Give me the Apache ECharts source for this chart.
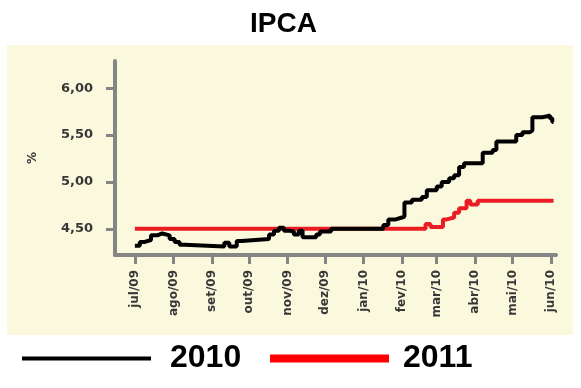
<!DOCTYPE html>
<html>
<head>
<meta charset="utf-8">
<script src="https://cdn.jsdelivr.net/npm/echarts@6/dist/echarts.min.js"></script>
<style>
  html, body { margin: 0; padding: 0; background: #ffffff; }
  #chart { width: 581px; height: 388px; }
</style>
</head>
<body>
<div id="chart"></div>
<script>
// Daily axis span
const firstDay = '2009-06-15';
const lastDay = '2010-06-05';

// Month ticks and their labels
const tickDates = ['2009-07-01', '2009-08-01', '2009-09-01', '2009-10-01', '2009-11-01', '2009-12-01',
                   '2010-01-01', '2010-02-01', '2010-03-01', '2010-04-01', '2010-05-01', '2010-06-01'];
const tickLabels = ['jul/09', 'ago/09', 'set/09', 'out/09', 'nov/09', 'dez/09',
                    'jan/10', 'fev/10', 'mar/10', 'abr/10', 'mai/10', 'jun/10'];
const yTicks = [4.5, 5.0, 5.5, 6.0];

// IPCA expectation for 2010 (dates where the value changes)
const dates2010 = ['2009-07-01', '2009-07-05', '2009-07-09', '2009-07-14', '2009-07-19', '2009-07-23',
  '2009-07-29', '2009-08-02', '2009-08-06', '2009-08-10', '2009-09-11', '2009-09-15', '2009-09-21',
  '2009-09-25', '2009-10-17', '2009-10-21', '2009-10-25', '2009-10-29', '2009-11-02', '2009-11-06',
  '2009-11-10', '2009-11-13', '2009-11-24', '2009-11-27', '2009-12-06', '2010-01-17', '2010-01-21',
  '2010-01-27', '2010-02-01', '2010-02-03', '2010-02-09', '2010-02-17', '2010-02-21', '2010-03-01',
  '2010-03-05', '2010-03-11', '2010-03-15', '2010-03-19', '2010-03-23', '2010-04-07', '2010-04-15',
  '2010-04-18', '2010-05-04', '2010-05-09', '2010-05-15', '2010-05-17', '2010-05-25', '2010-05-29',
  '2010-05-31', '2010-06-02', '2010-06-03'];
const ipca2010 = [4.32, 4.36, 4.38, 4.43, 4.45, 4.43,
  4.39, 4.36, 4.33, 4.31, 4.35, 4.31, 4.37,
  4.39, 4.44, 4.48, 4.51, 4.48, 4.47, 4.44,
  4.48, 4.41, 4.44, 4.47, 4.50, 4.54, 4.60,
  4.62, 4.63, 4.78, 4.81, 4.84, 4.91, 4.95,
  5.00, 5.04, 5.07, 5.16, 5.20, 5.31, 5.34,
  5.43, 5.50, 5.53, 5.55, 5.69, 5.70, 5.71,
  5.68, 5.64, 5.64];

// IPCA expectation for 2011
const dates2011 = ['2009-07-01', '2010-02-20', '2010-02-24', '2010-03-06', '2010-03-09', '2010-03-15',
  '2010-03-19', '2010-03-25', '2010-03-28', '2010-04-03', '2010-06-03'];
const ipca2011 = [4.50, 4.55, 4.52, 4.60, 4.62, 4.67,
  4.72, 4.80, 4.76, 4.80, 4.80];

// Build the list of calendar days for the category axis
function dayList(from, to) {
  const out = [];
  const d = new Date(from + 'T00:00:00Z');
  const end = new Date(to + 'T00:00:00Z');
  while (d <= end) {
    out.push(d.toISOString().slice(0, 10));
    d.setUTCDate(d.getUTCDate() + 1);
  }
  return out;
}
const days = dayList(firstDay, lastDay);
const pairs = (dates, vals) => dates.map((d, i) => [days.indexOf(d), vals[i]]);
const isTick = (idx, value) => tickDates.indexOf(value) >= 0;

const axisGray = '#858585';
const labelColor = '#383838';

const chart = echarts.init(document.getElementById('chart'), null, { renderer: 'canvas' });
chart.setOption({
  backgroundColor: '#ffffff',
  animation: false,
  graphic: [{
    type: 'rect', z: -10, silent: true,
    shape: { x: 7, y: 45, width: 566, height: 290 },
    style: { fill: '#FBF9DD' }
  }],
  title: {
    text: 'IPCA',
    left: 250, top: 10, padding: 0,
    textStyle: { fontFamily: 'Liberation Sans', fontWeight: 'bold', fontSize: 28, color: '#000' }
  },
  legend: [{
    data: [{ name: '2010', itemStyle: { color: '#000000' } }],
    left: 22, top: 330, padding: 0,
    icon: 'rect', itemWidth: 129, itemHeight: 4,
    textStyle: { fontFamily: 'Liberation Sans', fontWeight: 'bold', fontSize: 32, color: '#000',
                 lineHeight: 32, padding: [25, 0, 0, 14] }
  }, {
    data: [{ name: '2011', itemStyle: { color: '#FF0000' } }],
    left: 270, top: 330, padding: 0,
    icon: 'rect', itemWidth: 119, itemHeight: 8,
    textStyle: { fontFamily: 'Liberation Sans', fontWeight: 'bold', fontSize: 32, color: '#000',
                 lineHeight: 32, padding: [25, 0, 0, 9] }
  }],
  grid: { left: 115, right: 25, top: 61, bottom: 133, containLabel: false },
  xAxis: {
    type: 'category',
    data: days,
    boundaryGap: false,
    axisLine: { lineStyle: { color: axisGray, width: 4 } },
    axisTick: { interval: isTick, length: 9, lineStyle: { color: axisGray, width: 3 } },
    axisLabel: {
      interval: isTick, rotate: 90, margin: 15,
      fontFamily: 'DejaVu Sans', fontWeight: 'bold', fontSize: 12, color: labelColor,
      formatter: v => tickLabels[tickDates.indexOf(v)]
    },
    splitLine: { show: false }
  },
  yAxis: {
    type: 'value',
    min: 4.22, max: 6.29,
    name: '%', nameLocation: 'middle', nameRotate: 90, nameGap: 76,
    nameTextStyle: { fontFamily: 'DejaVu Sans', fontWeight: 'bold', fontSize: 12, color: labelColor },
    axisLine: { show: true, lineStyle: { color: axisGray, width: 4 } },
    axisTick: { show: true, customValues: yTicks, length: 9, lineStyle: { color: axisGray, width: 3 } },
    axisLabel: {
      customValues: yTicks, margin: 22,
      fontFamily: 'DejaVu Sans', fontWeight: 'bold', fontSize: 13, color: labelColor,
      formatter: v => v.toFixed(2).replace('.', ',')
    },
    splitLine: { show: false }
  },
  series: [{
    name: '2011', type: 'line', step: 'end', symbol: 'none', z: 2,
    lineStyle: { color: '#EC1C24', width: 4 },
    itemStyle: { color: '#EC1C24' },
    data: pairs(dates2011, ipca2011)
  }, {
    name: '2010', type: 'line', step: 'end', symbol: 'none', z: 3,
    lineStyle: { color: '#000000', width: 4 },
    itemStyle: { color: '#000000' },
    data: pairs(dates2010, ipca2010)
  }]
});
</script>
</body>
</html>
